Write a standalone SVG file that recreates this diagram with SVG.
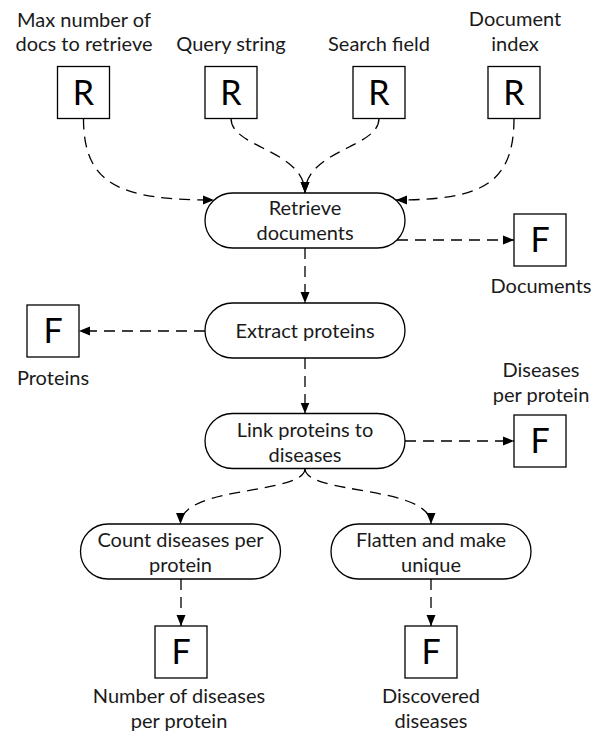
<svg xmlns="http://www.w3.org/2000/svg" width="596" height="737" viewBox="0 0 596 737">
  <defs>
    <marker id="arrow" markerUnits="userSpaceOnUse" markerWidth="12" markerHeight="10" refX="11" refY="5" orient="auto">
      <path d="M0,0.5 L11,5 L0,9.5 z" fill="#000"/>
    </marker>
  </defs>
  <style>
    .step{fill:#fff;stroke:#000;stroke-width:1.3}
    .box{fill:#fff;stroke:#000;stroke-width:1.3}
    .lbl{font-family:Lato,'Liberation Sans',sans-serif;font-size:20px;fill:#1a1a1a;text-anchor:middle}
    .big{font-family:Lato,'Liberation Sans',sans-serif;font-size:34px;fill:#000;text-anchor:middle}
    .conn{fill:none;stroke:#000;stroke-width:1.3;stroke-dasharray:11 7;marker-end:url(#arrow)}
  </style>
  <rect width="596" height="737" fill="#fff"/>

  <!-- read inputs -->
  <g id="in-max-docs">
    <text class="lbl" x="84" y="27">Max number of</text>
    <text class="lbl" x="84" y="51">docs to retrieve</text>
    <rect class="box" x="57.5" y="66.5" width="52" height="52"/>
    <text class="big" x="83.5" y="104.5">R</text>
  </g>
  <g id="in-query">
    <text class="lbl" x="231" y="51">Query string</text>
    <rect class="box" x="205" y="66.5" width="52" height="52"/>
    <text class="big" x="231" y="104.5">R</text>
  </g>
  <g id="in-field">
    <text class="lbl" x="379" y="51">Search field</text>
    <rect class="box" x="353" y="66.5" width="52" height="52"/>
    <text class="big" x="379" y="104.5">R</text>
  </g>
  <g id="in-index">
    <text class="lbl" x="515" y="26">Document</text>
    <text class="lbl" x="515" y="51">index</text>
    <rect class="box" x="488" y="66.5" width="52" height="52"/>
    <text class="big" x="514" y="104.5">R</text>
  </g>

  <!-- processing steps -->
  <g id="step-retrieve">
    <rect class="step" x="205" y="193" width="200" height="55" rx="27.5"/>
    <text class="lbl" x="305" y="215">Retrieve</text>
    <text class="lbl" x="305" y="240">documents</text>
  </g>
  <g id="step-extract">
    <rect class="step" x="205" y="303" width="200" height="55" rx="27.5"/>
    <text class="lbl" x="305" y="338">Extract proteins</text>
  </g>
  <g id="step-link">
    <rect class="step" x="205" y="413.5" width="200" height="55" rx="27.5"/>
    <text class="lbl" x="305" y="437">Link proteins to</text>
    <text class="lbl" x="305" y="462">diseases</text>
  </g>
  <g id="step-count">
    <rect class="step" x="80.5" y="524" width="200" height="55" rx="27.5"/>
    <text class="lbl" x="180.5" y="547">Count diseases per</text>
    <text class="lbl" x="180.5" y="572">protein</text>
  </g>
  <g id="step-flatten">
    <rect class="step" x="331" y="524" width="200" height="55" rx="27.5"/>
    <text class="lbl" x="431" y="547">Flatten and make</text>
    <text class="lbl" x="431" y="572">unique</text>
  </g>

  <!-- file outputs -->
  <g id="out-documents">
    <rect class="box" x="514" y="214" width="52" height="52"/>
    <text class="big" x="540" y="252">F</text>
    <text class="lbl" x="541" y="293">Documents</text>
  </g>
  <g id="out-proteins">
    <rect class="box" x="27" y="305" width="52" height="52"/>
    <text class="big" x="53" y="343">F</text>
    <text class="lbl" x="53" y="385">Proteins</text>
  </g>
  <g id="out-diseases-per-protein">
    <text class="lbl" x="541" y="377">Diseases</text>
    <text class="lbl" x="541" y="402">per protein</text>
    <rect class="box" x="514" y="415" width="52" height="52"/>
    <text class="big" x="540" y="453">F</text>
  </g>
  <g id="out-count">
    <rect class="box" x="155" y="626" width="52" height="52"/>
    <text class="big" x="181" y="664">F</text>
    <text class="lbl" x="179" y="703">Number of diseases</text>
    <text class="lbl" x="179" y="728">per protein</text>
  </g>
  <g id="out-discovered">
    <rect class="box" x="405" y="626" width="52" height="52"/>
    <text class="big" x="431" y="664">F</text>
    <text class="lbl" x="431" y="703">Discovered</text>
    <text class="lbl" x="431" y="728">diseases</text>
  </g>

  <!-- data flow -->
  <g id="connectors">
    <path class="conn" d="M83.5,118.5 C83.5,185 120,200 214,200"/>
    <path class="conn" d="M231,118.5 C231,148 305,150 305,193"/>
    <path class="conn" d="M379,118.5 C379,148 305,150 305,193"/>
    <path class="conn" d="M514,118.5 C514,185 480,200 396,200"/>
    <path class="conn" d="M397,240 H514"/>
    <path class="conn" d="M305,248 V303"/>
    <path class="conn" d="M205,331 H79"/>
    <path class="conn" d="M305,358 V413.5"/>
    <path class="conn" d="M405,441 H514"/>
    <path class="conn" d="M305,468.5 C305,495 180.5,485 180.5,524"/>
    <path class="conn" d="M305,468.5 C305,495 431,485 431,524"/>
    <path class="conn" d="M181,579 V626"/>
    <path class="conn" d="M431,579 V626"/>
  </g>
</svg>
